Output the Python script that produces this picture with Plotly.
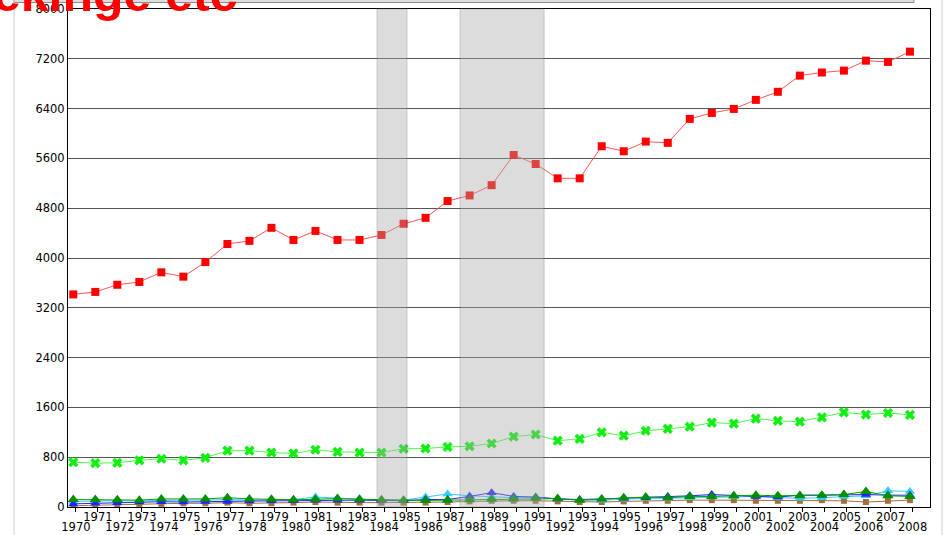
import plotly.graph_objects as go

years = list(range(1970, 2009))

red_vals = [3415, 3455, 3570, 3615, 3770, 3700, 3935, 4225, 4275, 4485,
            4290, 4435, 4290, 4290, 4370, 4550, 4645, 4915, 5005, 5170,
            5655, 5510, 5280, 5280, 5795, 5715, 5870, 5850, 6235, 6330,
            6395, 6540, 6670, 6930, 6980, 7010, 7170, 7150, 7315]
lime_vals = [720, 705, 710, 750, 775, 750, 790, 905, 905, 875,
             860, 920, 885, 875, 875, 935, 940, 965, 975, 1020,
             1130, 1165, 1065, 1095, 1200, 1145, 1225, 1255, 1290, 1355,
             1340, 1420, 1385, 1370, 1440, 1520, 1485, 1510, 1480]
green_vals = [120, 120, 115, 110, 130, 130, 130, 150, 130, 125,
              115, 125, 135, 125, 115, 110, 105, 110, 115, 125,
              130, 140, 135, 110, 130, 150, 160, 150, 170, 170,
              180, 190, 180, 180, 190, 200, 250, 180, 170]
blue_vals = [50, 60, 70, 80, 85, 80, 90, 90, 95, 100,
             100, 110, 110, 110, 105, 100, 120, 120, 170, 230,
             170, 160, 130, 120, 130, 140, 150, 170, 180, 200,
             180, 170, 160, 190, 190, 200, 200, 190, 190]
cyan_vals = [90, 100, 100, 100, 110, 110, 110, 120, 110, 110,
             120, 160, 140, 130, 110, 110, 160, 210, 180, 160,
             150, 150, 130, 110, 110, 130, 140, 140, 150, 160,
             170, 170, 150, 140, 150, 170, 180, 260, 250]
brown_vals = [20, 30, 40, 50, 50, 60, 60, 70, 60, 60,
              70, 80, 70, 70, 70, 70, 70, 80, 90, 100,
              100, 100, 90, 80, 80, 90, 100, 100, 110, 110,
              110, 100, 100, 100, 110, 100, 80, 100, 110]

bands = [(1983.8, 1985.15), (1987.57, 1991.38)]
title_text = "Blekinge etc"

even_years = [y for y in years if y % 2 == 0]

fig = go.Figure()
fig.add_scatter(x=years, y=brown_vals, mode="lines+markers", line=dict(color="#a0703c", width=1),
                marker=dict(symbol="square", size=6, color="#a0703c"))
fig.add_scatter(x=years, y=cyan_vals, mode="lines+markers", line=dict(color="#33ccff", width=1),
                marker=dict(symbol="triangle-up", size=9, color="#33ccff"))
fig.add_scatter(x=years, y=blue_vals, mode="lines+markers", line=dict(color="#2222ff", width=1),
                marker=dict(symbol="triangle-up", size=9, color="#2222ff"))
fig.add_scatter(x=years, y=green_vals, mode="lines+markers", line=dict(color="#00a000", width=1),
                marker=dict(symbol="triangle-up", size=10, color="#009000"))
fig.add_scatter(x=years, y=lime_vals, mode="lines+markers", line=dict(color="#44ff44", width=1),
                marker=dict(symbol="x", size=9, color="#11ee11", line=dict(width=0)))
fig.add_scatter(x=years, y=red_vals, mode="lines+markers", line=dict(color="#ff5555", width=1),
                marker=dict(symbol="square", size=8, color="#ff0000"))
# dummy trace so the second (even-year label) axis is drawn
fig.add_scatter(x=[], y=[], xaxis="x2", showlegend=False, hoverinfo="skip")

for x0, x1 in bands:
    fig.add_shape(type="rect", xref="x", yref="paper", x0=x0, x1=x1, y0=0, y1=1,
                  fillcolor="rgb(170,170,170)", opacity=0.4, layer="above",
                  line=dict(color="#666666", width=1))

# surrounding frame lines of the original page
fig.add_shape(type="rect", xref="paper", yref="paper", x0=-0.0626, x1=0.9814, y0=1.013, y1=1.05,
              fillcolor="#dedede", line=dict(color="#8a8a8a", width=1), layer="below")
fig.add_shape(type="line", xref="paper", yref="paper", x0=-0.0626, x1=-0.0626, y0=-0.06, y1=1.02,
              line=dict(color="#cccccc", width=1))
fig.add_shape(type="line", xref="paper", yref="paper", x0=1.0139, x1=1.0139, y0=-0.06, y1=1.02,
              line=dict(color="#d0d0d0", width=1))

fig.add_annotation(text=title_text, xref="paper", yref="paper", x=0.1995, y=0.97,
                   xanchor="right", yanchor="bottom", showarrow=False,
                   font=dict(family="Liberation Sans, Arial", size=50, color="#ff0000", weight="bold"))

fig.update_layout(
    width=945, height=535,
    margin=dict(l=68, r=15, t=9, b=28, autoexpand=False),
    plot_bgcolor="white", paper_bgcolor="white",
    showlegend=False,
    font=dict(family="DejaVu Sans", size=11.5, color="black"),
    xaxis=dict(range=[1969.76, 2008.91], tickvals=[y + 0.12 for y in years],
               ticktext=[str(y) if y % 2 else "" for y in years],
               ticks="outside", ticklen=4, tickcolor="black", showgrid=False, automargin=False,
               ticklabelstandoff=-5,
               showline=True, linecolor="black", linewidth=1, mirror=True, zeroline=False),
    xaxis2=dict(overlaying="x", matches="x", side="bottom", anchor="y", automargin=False,
                tickvals=[y + 0.12 for y in even_years], ticktext=[str(y) for y in even_years],
                ticks="outside", ticklen=4, tickcolor="rgba(0,0,0,0)",
                showgrid=False, showline=False, zeroline=False, ticklabelstandoff=5),
    yaxis=dict(range=[0, 8000], tickvals=list(range(0, 8001, 800)), ticks="", automargin=False,
               showgrid=True, gridcolor="#555555", gridwidth=1,
               showline=True, linecolor="black", linewidth=1, mirror=True, zeroline=False),
)

# drop the default page margin so the figure sits at the window's corner
fig.write_html("out.html", config={"displayModeBar": False},
               post_script="document.body.style.margin='0';document.body.style.overflow='hidden';")
